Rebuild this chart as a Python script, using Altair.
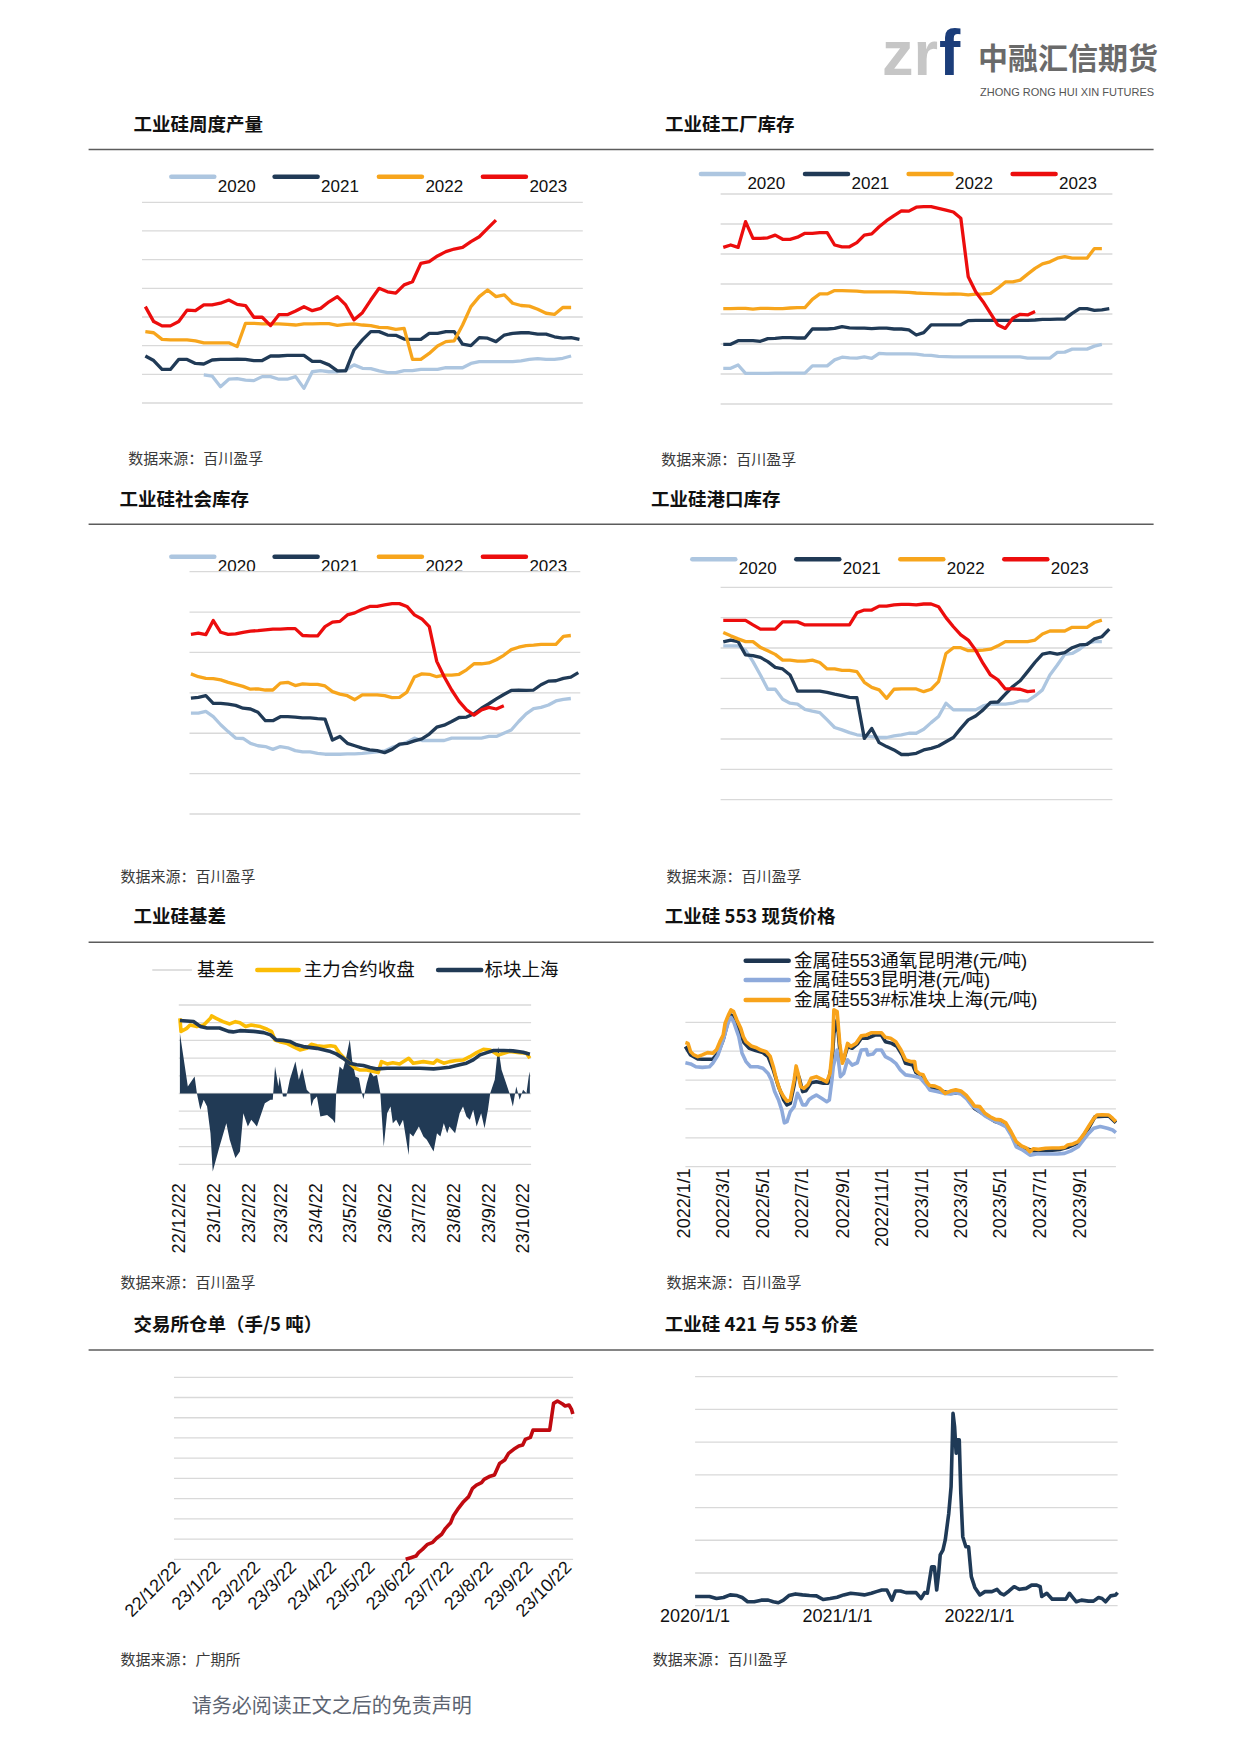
import altair as alt
import pandas as pd

CJK = "Noto Sans CJK SC"
LAT = "Liberation Sans, Noto Sans CJK SC"
GRID = "#d9d9d9"
RULE = "#5c5c5c"
INK = "#111111"
SRC = "#3a3a3a"

C20, C21, C22, C23 = "#adc6e0", "#203a56", "#f7a51c", "#ec0d0d"
YEARS = ["2020", "2021", "2022", "2023"]
YCOL = [C20, C21, C22, C23]

# ---------------- data (grid units) ----------------
p1_2020 = [0.98,0.94,0.57,0.83,0.85,0.80,0.78,0.92,0.92,0.83,0.83,0.92,0.51,1.09,1.13,1.09,1.09,1.15,1.33,1.21,
           1.20,1.12,1.06,1.06,1.13,1.13,1.17,1.17,1.17,1.23,1.23,1.23,1.38,1.44,1.44,1.44,1.44,1.44,1.47,1.52,
           1.55,1.52,1.52,1.56,1.64]
p1_2021 = [1.64,1.48,1.17,1.17,1.52,1.52,1.38,1.36,1.50,1.52,1.52,1.53,1.52,1.48,1.48,1.64,1.64,1.66,1.66,1.66,
           1.45,1.45,1.33,1.12,1.12,1.85,2.20,2.49,2.49,2.37,2.36,2.23,2.22,2.22,2.43,2.43,2.49,2.49,2.05,2.00,
           2.28,2.26,2.14,2.37,2.43,2.45,2.45,2.40,2.40,2.31,2.26,2.28,2.22]
p1_2022 = [2.49,2.45,2.22,2.20,2.20,2.20,2.17,2.10,2.10,2.10,2.10,1.97,2.78,2.78,2.76,2.76,2.76,2.74,2.72,2.76,
           2.76,2.77,2.77,2.71,2.74,2.76,2.72,2.70,2.64,2.63,2.57,2.60,1.52,1.52,1.73,1.99,2.14,2.17,2.72,3.36,
           3.71,3.94,3.71,3.77,3.48,3.40,3.38,3.27,3.13,3.09,3.33,3.33]
p1_2023 = [3.36,2.84,2.69,2.69,2.84,3.24,3.22,3.42,3.42,3.48,3.59,3.44,3.40,2.99,2.99,2.70,3.08,3.08,3.21,3.36,
           3.22,3.30,3.53,3.71,3.42,2.90,3.15,3.59,4.00,3.88,3.83,4.12,4.23,4.87,4.93,5.13,5.28,5.37,5.43,5.63,
           5.80,6.09,6.38]

p2_2020 = [1.19,1.19,1.30,1.02,1.02,1.02,1.02,1.03,1.03,1.03,1.03,1.03,1.27,1.27,1.27,1.47,1.56,1.54,1.53,1.57,
           1.52,1.69,1.67,1.67,1.67,1.67,1.66,1.63,1.62,1.59,1.58,1.57,1.57,1.57,1.57,1.57,1.57,1.57,1.57,1.57,
           1.57,1.53,1.53,1.53,1.53,1.72,1.73,1.83,1.83,1.83,1.93,1.99]
p2_2021 = [1.99,1.99,2.11,2.11,2.11,2.09,2.18,2.19,2.21,2.21,2.20,2.20,2.50,2.50,2.50,2.52,2.58,2.54,2.53,2.53,
           2.51,2.53,2.53,2.50,2.50,2.47,2.30,2.38,2.64,2.64,2.64,2.64,2.64,2.78,2.79,2.79,2.79,2.79,2.79,2.79,
           2.79,2.79,2.80,2.82,2.82,2.83,2.83,3.02,3.18,3.18,3.12,3.14,3.18]
p2_2022 = [3.18,3.18,3.19,3.19,3.16,3.19,3.19,3.18,3.18,3.20,3.21,3.21,3.49,3.67,3.67,3.78,3.78,3.77,3.76,3.74,
           3.74,3.74,3.74,3.74,3.73,3.72,3.70,3.69,3.68,3.67,3.66,3.67,3.66,3.64,3.66,3.67,3.69,3.86,4.07,4.07,
           4.13,4.33,4.52,4.67,4.74,4.86,4.91,4.86,4.86,4.86,5.18,5.18]
p2_2023 = [5.22,5.30,5.22,6.08,5.52,5.52,5.54,5.63,5.49,5.49,5.56,5.69,5.69,5.71,5.71,5.30,5.24,5.24,5.38,5.63,
           5.67,5.91,6.11,6.28,6.44,6.43,6.56,6.58,6.58,6.52,6.46,6.40,6.19,4.24,3.74,3.41,3.02,2.63,2.52,2.86,
           2.99,2.97,3.08]

p3_2020 = [2.50,2.50,2.54,2.41,2.21,2.04,1.88,1.87,1.75,1.69,1.67,1.60,1.67,1.64,1.57,1.54,1.54,1.50,1.48,1.48,
           1.48,1.49,1.49,1.50,1.52,1.54,1.56,1.65,1.71,1.78,1.88,1.82,1.82,1.82,1.82,1.88,1.88,1.88,1.88,1.88,
           1.92,1.92,2.00,2.08,2.29,2.48,2.61,2.64,2.70,2.80,2.84,2.86]
p3_2021 = [2.87,2.89,2.93,2.74,2.74,2.72,2.69,2.62,2.60,2.52,2.31,2.31,2.41,2.41,2.40,2.38,2.38,2.36,2.35,1.83,
           1.92,1.75,1.69,1.63,1.59,1.57,1.52,1.60,1.73,1.75,1.81,1.86,1.98,2.15,2.20,2.29,2.39,2.40,2.48,2.62,
           2.73,2.85,2.96,3.06,3.07,3.06,3.07,3.20,3.29,3.30,3.36,3.39,3.50]
p3_2022 = [3.47,3.40,3.36,3.35,3.32,3.26,3.21,3.16,3.09,3.10,3.07,3.07,3.24,3.26,3.18,3.22,3.21,3.21,3.17,3.03,
           2.97,2.93,2.83,2.95,2.95,2.95,2.93,2.88,2.89,3.02,3.39,3.47,3.46,3.40,3.44,3.44,3.46,3.57,3.72,3.72,
           3.74,3.82,3.93,4.07,4.13,4.17,4.18,4.20,4.20,4.20,4.40,4.42]
p3_2023 = [4.45,4.48,4.44,4.79,4.50,4.45,4.46,4.50,4.53,4.54,4.56,4.58,4.58,4.59,4.59,4.42,4.41,4.41,4.64,4.75,
           4.77,4.93,4.98,5.07,5.14,5.14,5.18,5.21,5.21,5.14,4.93,4.83,4.64,3.78,3.40,3.07,2.79,2.58,2.45,2.58,
           2.64,2.60,2.68]

p4_2020 = [5.07,5.07,5.07,4.93,4.55,4.11,3.64,3.64,3.31,3.18,3.15,2.98,2.92,2.87,2.63,2.38,2.30,2.21,2.14,2.11,
           2.08,2.05,2.05,2.10,2.14,2.19,2.19,2.32,2.54,2.74,3.18,2.96,2.96,2.96,2.96,3.09,3.15,3.15,3.15,3.18,
           3.26,3.26,3.42,3.62,4.11,4.44,4.79,4.82,4.96,5.15,5.21,5.21]
p4_2021 = [5.20,5.26,5.21,4.77,4.75,4.69,4.55,4.36,4.31,4.11,3.58,3.58,3.58,3.58,3.54,3.48,3.43,3.37,3.36,2.02,
           2.35,1.88,1.75,1.64,1.49,1.49,1.53,1.64,1.69,1.77,1.91,2.05,2.35,2.63,2.76,2.96,3.21,3.22,3.48,3.73,
           3.92,4.22,4.53,4.80,4.85,4.80,4.85,5.01,5.10,5.12,5.30,5.37,5.62]
p4_2022 = [5.51,5.40,5.30,5.21,5.21,5.02,4.91,4.79,4.60,4.60,4.57,4.57,4.60,4.52,4.31,4.31,4.26,4.26,4.22,3.87,
           3.70,3.62,3.34,3.64,3.65,3.65,3.65,3.56,3.64,3.89,4.82,5.01,5.01,4.91,4.91,4.93,4.96,5.07,5.21,5.21,
           5.21,5.21,5.26,5.46,5.56,5.56,5.56,5.68,5.68,5.68,5.84,5.92]
p4_2023 = [5.91,5.91,5.91,5.91,5.76,5.62,5.62,5.62,5.86,5.86,5.86,5.76,5.76,5.76,5.76,5.76,5.76,5.76,6.16,6.25,
           6.25,6.38,6.38,6.42,6.44,6.44,6.42,6.45,6.45,6.36,6.00,5.70,5.43,5.26,4.93,4.49,4.11,3.95,3.65,3.65,
           3.64,3.56,3.59]

basis_days = [0,7,13,15,18,21,24,27,29,35,41,44,49,53,56,60,63,68,71,75,80,82,84,87,88,91,94,97,102,105,
              108,112,115,116,118,121,124,130,135,137,138,141,144,147,150,152,155,158,160,162,165,168,171,174,
              177,180,183,186,188,191,194,197,202,203,206,211,215,218,224,227,230,233,236,238,243,247,250,253,
              256,259,262,266,269,272,274,278,281,284,287,291,294,297,300,303,306,308,309]
basis_vals = [3.41,0.40,0.96,0.02,-0.92,-0.36,-0.73,-2.24,-4.41,-2.99,-1.68,-2.62,-3.65,-3.28,-1.11,-1.86,-1.49,
              -1.86,-1.30,-0.55,-0.36,-0.36,1.53,0.40,0.96,-0.17,-0.17,0.77,1.81,0.77,1.43,0.21,0.02,-0.73,-0.36,
              -0.17,-1.30,-1.21,-1.49,-1.68,0.02,1.53,1.34,2.09,3.03,1.90,0.96,0.87,0.21,-0.32,0.58,1.24,0.96,1.05,
              0.02,-2.99,-1.11,-0.73,-1.68,-1.49,-1.86,-1.49,-3.47,-2.24,-2.43,-1.86,-2.43,-2.62,-3.28,-2.24,-2.43,
              -1.68,-2.24,-1.86,-2.24,-1.11,-0.73,-1.30,-1.49,-0.92,-1.86,-1.11,-1.96,-0.92,0.02,0.77,2.66,1.34,0.77,
              0.02,-0.73,0.40,-0.36,0.21,0.02,0.96,1.24]
main_days = [0,1,6,9,15,21,27,28,32,38,44,49,53,58,63,71,77,81,84,88,94,100,106,112,116,121,127,133,137,141,
             146,150,155,159,165,171,175,178,183,188,194,202,206,215,224,227,233,238,244,250,256,262,268,274,281,
             286,291,300,306,309]
main_vals = [8.25,7.50,7.68,7.87,7.78,7.87,8.25,8.38,8.25,8.06,7.93,8.06,8.00,7.78,7.87,7.78,7.63,7.50,7.02,6.93,
             6.84,6.65,6.46,6.55,6.78,6.70,6.65,6.70,6.65,6.27,5.93,5.71,5.42,5.33,5.33,5.24,5.18,5.80,5.67,5.74,
             5.67,5.99,5.71,5.80,5.71,5.89,5.71,5.80,5.86,5.89,6.08,6.31,6.50,6.46,6.18,6.27,6.37,6.31,6.27,5.99]
sh_days = [0,12,18,24,35,43,47,53,65,74,80,85,91,97,103,109,121,133,138,144,150,156,162,168,174,183,197,212,224,
           230,238,247,253,259,265,271,277,286,294,303,309]
sh_vals = [8.12,8.07,7.79,7.70,7.70,7.51,7.48,7.55,7.51,7.44,7.31,7.03,7.00,6.94,6.75,6.65,6.55,6.37,6.24,6.00,
           5.71,5.62,5.58,5.47,5.39,5.43,5.43,5.43,5.39,5.43,5.48,5.62,5.71,5.90,6.18,6.31,6.43,6.43,6.41,6.33,6.22]
b_tick_days = [0,31,62,90,121,151,182,212,243,274,304]
b_tick_labels = ["22/12/22","23/1/22","23/2/22","23/3/22","23/4/22","23/5/22","23/6/22","23/7/22","23/8/22",
                 "23/9/22","23/10/22"]

sh553_days = [0,4,8,13,19,26,34,42,48,53,58,61,66,70,74,79,85,89,93,101,
              108,116,124,130,135,140,145,151,156,161,167,170,173,177,182,188,193,201,212,217,
              222,226,228,233,237,241,243,249,254,262,270,278,286,294,301,307,315,323,331,338,
              346,352,354,360,365,370,375,383,391,399,407,415,423,431,439,444,452,460,468,476,
              484,492,500,508,516,524,529,534,542,553,563,574,582,587,595,603,611,619,627,632,
              640,650,656,661]
sh553_vals = [4.30,4.27,3.98,3.87,3.81,3.87,3.95,3.93,4.06,4.33,4.56,4.97,5.25,5.43,5.37,5.08,4.79,4.50,4.33,4.18,
              4.13,4.04,3.98,3.83,3.46,3.00,2.66,2.42,2.27,2.31,3.00,3.49,3.23,2.77,2.71,2.83,3.06,3.12,3.00,2.94,
              3.23,4.16,5.43,5.37,4.27,3.58,3.70,4.27,4.16,4.27,4.53,4.56,4.64,4.64,4.64,4.48,4.45,4.33,4.04,3.70,
              3.64,3.64,3.33,3.21,3.18,2.94,2.81,2.79,2.71,2.54,2.62,2.66,2.62,2.48,2.25,2.10,2.08,1.85,1.73,1.64,
              1.62,1.52,1.21,0.87,0.72,0.64,0.52,0.62,0.60,0.64,0.65,0.65,0.67,0.75,0.79,0.87,1.10,1.39,1.67,1.79,
              1.80,1.79,1.67,1.56]
ox_days = [0,8,19,26,34,42,50,58,66,70,74,82,90,98,108,119,127,135,143,151,
           156,161,167,170,175,180,185,193,201,212,219,225,228,233,238,243,249,256,264,270,
           280,291,301,307,317,325,333,338,349,354,365,375,391,407,423,434,444,460,476,492,
           500,508,521,534,555,576,587,603,619,629,650,661]
ox_vals = [4.16,3.87,3.73,3.72,3.72,3.72,3.93,4.39,5.08,5.25,5.20,4.73,4.30,4.10,4.02,3.95,3.81,3.35,2.77,2.31,
           2.14,2.19,2.83,3.35,3.06,2.60,2.63,2.91,2.94,2.89,2.89,3.58,4.62,5.08,3.81,3.70,4.16,4.10,4.25,4.45,
           4.45,4.56,4.56,4.33,4.27,4.16,3.87,3.58,3.52,3.26,3.12,2.75,2.63,2.54,2.56,2.33,2.02,1.79,1.56,1.44,
           1.15,0.79,0.64,0.55,0.55,0.60,0.67,0.83,1.33,1.73,1.76,1.52]
km_days = [0,8,16,26,37,42,50,58,66,70,74,82,87,93,100,111,119,127,132,137,
           143,148,152,156,161,167,172,175,180,185,190,196,201,209,217,221,225,227,233,238,
           243,249,256,264,270,278,280,288,293,301,307,315,323,330,338,349,360,370,375,386,
           397,407,415,423,431,439,449,460,471,481,492,500,508,516,524,529,539,555,571,582,
           592,603,611,619,627,637,648,656,661]
km_vals = [3.60,3.56,3.46,3.44,3.46,3.58,3.87,4.39,5.02,5.17,5.02,4.50,3.93,3.64,3.46,3.46,3.41,3.23,3.00,2.60,
           2.31,1.96,1.52,1.56,1.91,2.08,2.54,2.42,2.14,2.14,2.33,2.42,2.48,2.37,2.25,2.31,3.00,3.46,4.04,3.12,
           3.23,3.70,3.52,3.60,4.04,4.06,3.87,3.90,4.04,4.04,3.81,3.72,3.58,3.35,3.18,3.14,3.09,2.83,2.66,2.60,
           2.54,2.52,2.56,2.52,2.37,2.14,1.96,1.76,1.62,1.52,1.39,1.10,0.69,0.60,0.48,0.40,0.44,0.44,0.44,0.46,
           0.55,0.69,0.92,1.15,1.33,1.39,1.33,1.27,1.18]
s_tick_days = [0,59,120,181,243,304,365,424,485,546,608]
s_tick_labels = ["2022/1/1","2022/3/1","2022/5/1","2022/7/1","2022/9/1","2022/11/1","2023/1/1","2023/3/1",
                 "2023/5/1","2023/7/1","2023/9/1"]

wr_days = [177,181,185,187,190,194,198,201,205,208,212,214,218,222,226,229,232,236,238,242,
           246,250,254,257,261,265,268,270,274,276,282,289,292,295,299,301,304,306,307]
wr_vals = [0,0.08,0.16,0.33,0.49,0.74,0.84,1.04,1.24,1.53,1.81,2.14,2.52,2.85,3.10,3.51,3.67,3.79,3.95,4.09,
           4.17,4.74,4.91,5.24,5.44,5.60,5.65,5.93,6.03,6.39,6.39,6.39,7.71,7.83,7.68,7.58,7.63,7.41,7.18]

sp_days = [0,19,37,55,73,90,108,121,135,152,170,188,201,214,227,241,258,276,294,312,
           329,347,365,382,400,418,435,453,466,480,493,506,515,528,542,555,568,581,590,597,
           608,615,621,626,630,637,643,652,658,663,667,671,674,679,683,688,696,703,710,719,
           732,745,763,776,785,794,807,820,834,851,865,878,887,891,904,918,935,953,962,971,
           980,993,1011,1024,1037,1046,1055,1068,1081,1086]
sp_vals = [0.28,0.28,0.28,0.22,0.25,0.33,0.31,0.25,0.12,0.12,0.17,0.17,0.12,0.09,0.17,0.31,0.36,0.33,0.31,0.30,
           0.19,0.22,0.26,0.33,0.38,0.36,0.33,0.38,0.43,0.48,0.48,0.17,0.45,0.45,0.40,0.40,0.40,0.22,0.40,0.38,
           1.19,1.19,0.48,0.99,1.55,1.70,2.01,2.82,3.64,5.88,5.47,4.66,5.07,5.07,3.44,2.11,1.80,1.80,0.89,0.56,
           0.33,0.43,0.43,0.50,0.38,0.33,0.45,0.58,0.50,0.53,0.63,0.63,0.58,0.28,0.38,0.20,0.20,0.20,0.38,0.25,
           0.12,0.17,0.14,0.14,0.25,0.22,0.12,0.30,0.33,0.40]
sp_tick_days = [0,366,731]
sp_tick_labels = ["2020/1/1","2021/1/1","2022/1/1"]


# ---------------- helpers ----------------
def one():
    return pd.DataFrame({"k": [0]})


def text(t, x, y, size, color=INK, weight="normal", font=CJK, align="left", baseline="middle", angle=0,
         opacity=1):
    return alt.Chart(pd.DataFrame({"t": [t]})).mark_text(
        align=align, baseline=baseline, fontSize=size, font=font,
        fontWeight=weight, color=color, angle=angle, opacity=opacity
    ).encode(x=alt.value(x), y=alt.value(y), text="t:N")


def hrule(x1, x2, y, color, width, cap="butt"):
    return alt.Chart(one()).mark_rule(color=color, strokeWidth=width, strokeCap=cap).encode(
        x=alt.value(x1), x2=alt.value(x2), y=alt.value(y))


def grid(n, ys, x1, x2):
    return alt.Chart(pd.DataFrame({"g": list(range(n + 1))})).mark_rule(color=GRID, strokeWidth=1.3).encode(
        y=alt.Y("g:Q", scale=ys, axis=None), x=alt.value(x1), x2=alt.value(x2))


def sline(xv, yv, xs, ys, color, width):
    d = pd.DataFrame({"x": xv, "v": yv})
    return alt.Chart(d).mark_line(color=color, strokeWidth=width, strokeJoin="round").encode(
        x=alt.X("x:Q", scale=xs, axis=None), y=alt.Y("v:Q", scale=ys, axis=None))


def ticks(days, labels, xs, y, size, angle, align, baseline):
    d = pd.DataFrame({"x": days, "t": labels})
    return alt.Chart(d).mark_text(fontSize=size, font=LAT, color=INK, angle=angle,
                                  align=align, baseline=baseline).encode(
        x=alt.X("x:Q", scale=xs, axis=None), y=alt.value(y), text="t:N")


def sc(dom, rng):
    return alt.Scale(domain=dom, range=rng, nice=False, zero=False)


def seasonal(W, H, title, tx, ty, rx1, rx2, ry, leg_x, leg_ly, leg_ty, xs, ys, ngrid, gx1, gx2,
             data, sx, sy):
    layers = [hrule(rx1, rx2, ry, RULE, 1.5), text(title, tx, ty, 18.5, weight="bold")]
    for i in range(4):
        layers.append(hrule(leg_x[i], leg_x[i] + 43, leg_ly, YCOL[i], 4.5, "round"))
        layers.append(text(YEARS[i], leg_x[i] + 46.5, leg_ty, 17, font=LAT))
    layers.append(grid(ngrid, ys, gx1, gx2))
    for i, (start, vals) in enumerate(data):
        layers.append(sline(list(range(start, start + len(vals))), vals, xs, ys, YCOL[i], 3.3))
    layers.append(text("数据来源：百川盈孚", sx, sy, 15, color=SRC))
    return alt.layer(*layers).properties(width=W, height=H)


LW, RW = 612, 613

# ---------------- header ----------------
header_l = alt.layer(text(" ", 10, 10, 10, opacity=0)).properties(width=LW, height=92)
header_r = alt.layer(
    text("zr", 262, 67, 63, color="#c6c6c6", weight="bold", font="Liberation Sans", baseline="alphabetic"),
    text("f", 319, 67, 64, color="#1b3d7a", weight="bold", font="Liberation Sans", baseline="alphabetic"),
    text("中融汇信期货", 358, 52, 30, color="#6a6a6a", weight="bold"),
    text("ZHONG RONG HUI XIN FUTURES", 360, 85, 11, color="#555555", font="Liberation Sans"),
).properties(width=RW, height=92)

# ---------------- row 1 ----------------
xs1 = sc([0.6, 53.4], [134, 574.8]); ys1 = sc([0, 7], [303, 102.3])
p1 = seasonal(LW, 380, "工业硅周度产量", 125.4, 25.4, 80.6, 612, 49.5,
              [163.3, 266.6, 370.9, 474.9], 76.7, 87.3, xs1, ys1, 7, 134, 574.8,
              [(8, p1_2020), (1, p1_2021), (1, p1_2022), (1, p1_2023)], 120.2, 359.3)
xs2 = sc([0.64, 53.42], [100.6, 492.4]); ys2 = sc([0, 7], [304, 94])
p2 = seasonal(RW, 380, "工业硅工厂库存", 45, 25.4, 0, 533.6, 49.5,
              [80.9, 185, 288.6, 392.6], 74, 84.3, xs2, ys2, 7, 100.6, 492.4,
              [(1, p2_2020), (1, p2_2021), (1, p2_2022), (1, p2_2023)], 41.3, 360)

# ---------------- row 2 ----------------
xs3 = sc([0.81, 53.27], [181.5, 572.3]); ys3 = sc([0, 6], [334, 91.7])
p3 = seasonal(LW, 420, "工业硅社会库存", 111.6, 20, 80.6, 612, 44.3,
              [163.3, 266.6, 370.9, 474.9], 76.7, 87.3, xs3, ys3, 6, 181.5, 572.3,
              [(1, p3_2020), (1, p3_2021), (1, p3_2022), (1, p3_2023)], 112.6, 396.7)
xs4 = sc([0.64, 53.42], [100.6, 492.4]); ys4 = sc([0, 7], [319.7, 107.3])
p4 = seasonal(RW, 420, "工业硅港口库存", 31, 20, 0, 533.6, 44.3,
              [72.3, 176.3, 280.3, 384.3], 79.3, 89.3, xs4, ys4, 7, 100.6, 492.4,
              [(1, p4_2020), (1, p4_2021), (1, p4_2022), (1, p4_2023)], 46.5, 396.7)

# ---------------- row 3 ----------------
NAVY = "#213a55"
GOLD = "#fbbc05"
xs5 = sc([-0.97, 310.1], [170.8, 523.1])
ys5p = sc([0, 9], [264.3, 105])
ys5b = sc([-4, 5], [264.3, 105])
bdf = pd.DataFrame({"x": basis_days, "b": basis_vals, "z": [0] * len(basis_days)})
basis_area = alt.Chart(bdf).mark_area(color=NAVY, opacity=1).encode(
    x=alt.X("x:Q", scale=xs5, axis=None), y=alt.Y("b:Q", scale=ys5b, axis=None), y2=alt.Y2("z"))
p5 = alt.layer(
    hrule(80.6, 612, 42.3, RULE, 1.5),
    text("工业硅基差", 125.4, 16.7, 18.5, weight="bold"),
    hrule(144.3, 183.9, 70, "#bfbfbf", 1.2),
    text("基差", 189, 70, 18.5),
    hrule(249.3, 290.7, 70, GOLD, 4.5, "round"),
    text("主力合约收盘", 295.8, 70, 18.5),
    hrule(430.1, 473.2, 70, NAVY, 4.5, "round"),
    text("标块上海", 476.6, 70, 18.5),
    grid(9, ys5p, 170.8, 523.1),
    basis_area,
    sline(main_days, main_vals, xs5, ys5p, GOLD, 3.6),
    sline(sh_days, sh_vals, xs5, ys5p, NAVY, 3.6),
    ticks(b_tick_days, b_tick_labels, xs5, 283.3, 18, 270, "right", "middle"),
    text("数据来源：百川盈孚", 112.6, 383.3, 15, color=SRC),
).resolve_scale(y="independent").properties(width=LW, height=400)

D553, L553, O553 = "#1e3550", "#8eaadb", "#f8a31b"
xs6 = sc([0, 661], [65.4, 495.9]); ys6 = sc([0, 5], [266.7, 122.3])
p6 = alt.layer(
    hrule(0, 533.6, 42.3, RULE, 1.5),
    text("工业硅 553 现货价格", 44.8, 16.7, 18.5, weight="bold"),
    hrule(125.7, 168.7, 60.7, D553, 4.5, "round"),
    text("金属硅553通氧昆明港(元/吨)", 173.9, 60.7, 18.5, font=LAT),
    hrule(125.7, 168.7, 80, L553, 4.5, "round"),
    text("金属硅553昆明港(元/吨)", 173.9, 80, 18.5, font=LAT),
    hrule(125.7, 168.7, 100, O553, 4.5, "round"),
    text("金属硅553#标准块上海(元/吨)", 173.9, 100, 18.5, font=LAT),
    grid(5, ys6, 65.4, 495.9),
    sline(ox_days, ox_vals, xs6, ys6, D553, 3.6),
    sline(km_days, km_vals, xs6, ys6, L553, 3.6),
    sline(sh553_days, sh553_vals, xs6, ys6, O553, 3.6),
    ticks(s_tick_days, s_tick_labels, xs6, 268.3, 18, 270, "right", "middle"),
    text("数据来源：百川盈孚", 46.5, 383.3, 15, color=SRC),
).properties(width=RW, height=400)

# ---------------- row 4 ----------------
xs7 = sc([-3.2, 307.2], [166, 565.1]); ys7 = sc([0, 9], [259.3, 77.3])
p7 = alt.layer(
    hrule(80.6, 612, 50, RULE, 1.5),
    text("交易所仓单（手/5 吨）", 125.4, 25, 18.5, weight="bold"),
    grid(9, ys7, 166, 565.1),
    sline(wr_days, wr_vals, xs7, ys7, "#c00a10", 3.6),
    ticks(b_tick_days, b_tick_labels, xs7, 265, 18, 315, "right", "middle"),
    text("数据来源：广期所", 112.6, 360, 15, color=SRC),
).properties(width=LW, height=390)

xs8 = sc([0, 1086], [75.1, 497.6]); ys8 = sc([0, 7], [305.7, 76.7])
p8 = alt.layer(
    hrule(0, 533.6, 50, RULE, 1.5),
    text("工业硅 421 与 553 价差", 44.8, 25, 18.5, weight="bold"),
    grid(7, ys8, 75.1, 497.6),
    sline(sp_days, sp_vals, xs8, ys8, "#1f3a57", 3.6),
    ticks(sp_tick_days, sp_tick_labels, xs8, 316.7, 18, 0, "center", "middle"),
    text("数据来源：百川盈孚", 32.7, 360, 15, color=SRC),
).properties(width=RW, height=390)

# ---------------- footer ----------------
footer_l = alt.layer(
    text("请务必阅读正文之后的免责声明", 183.7, 16.7, 20, color="#5d6471"),
).properties(width=LW, height=55)
footer_r = alt.layer(text(" ", 10, 10, 10, opacity=0)).properties(width=RW, height=55)

chart = alt.concat(header_l, header_r, p1, p2, p3, p4, p5, p6, p7, p8, footer_l, footer_r,
                   columns=2, spacing=0, bounds="flush", padding=0, background="white")
chart = chart.configure(font="Liberation Sans").configure_view(strokeWidth=0)

chart.save("out.html", embed_options={"renderer": "svg", "actions": False})
